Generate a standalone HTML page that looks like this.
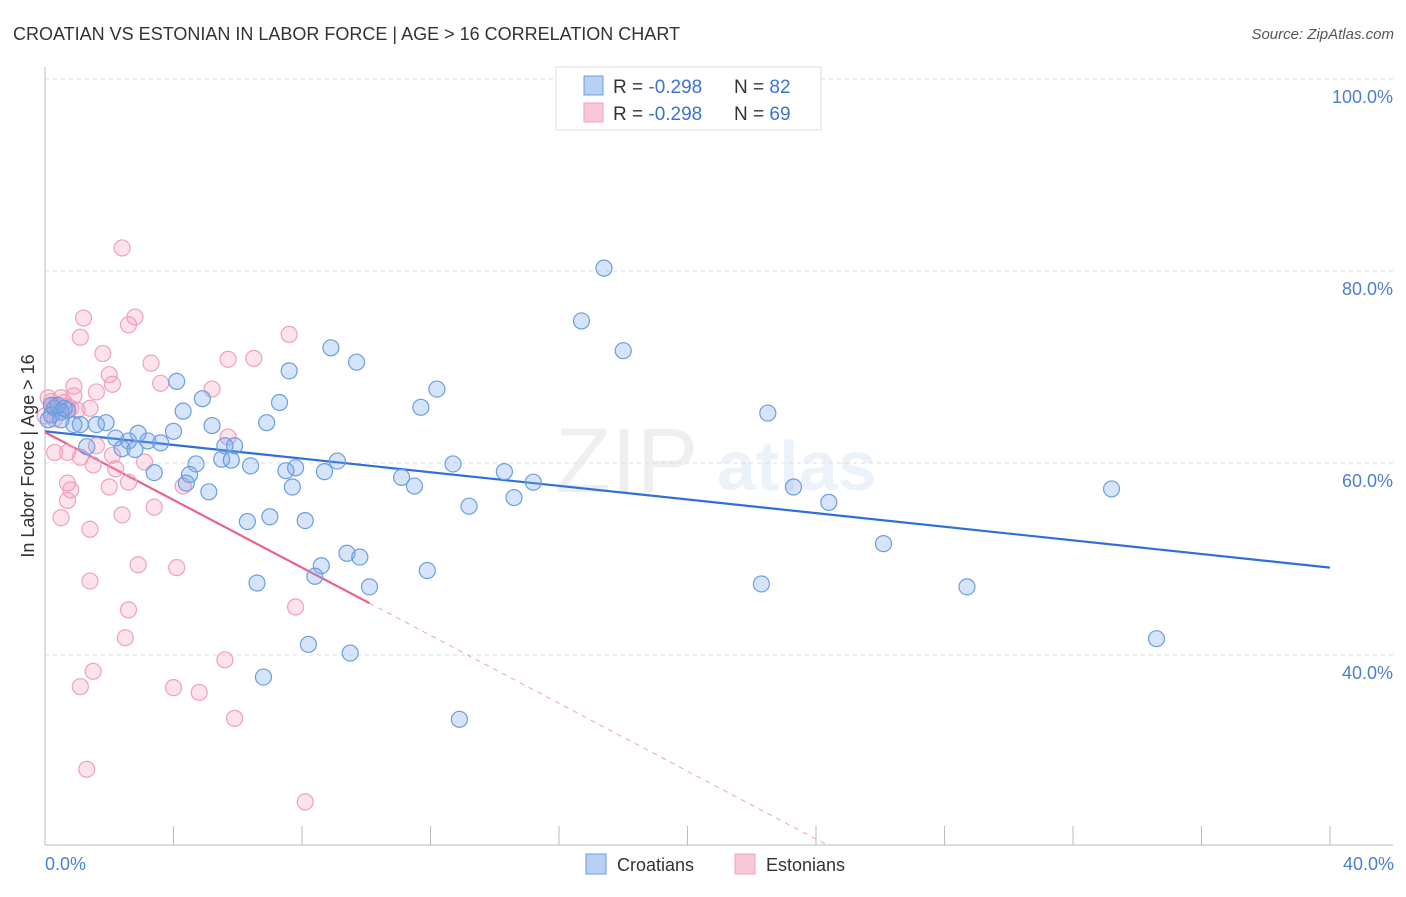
<!DOCTYPE html>
<html><head><meta charset="utf-8">
<style>
body{margin:0;background:#fff;font-family:"Liberation Sans",sans-serif;}
svg text{font-family:"Liberation Sans",sans-serif;}
</style></head>
<body>
<svg id="chart" width="1406" height="892" xmlns="http://www.w3.org/2000/svg">
<text x="13" y="40" font-size="18" fill="#333">CROATIAN VS ESTONIAN IN LABOR FORCE | AGE &gt; 16 CORRELATION CHART</text>
<text x="1394" y="39" font-size="15" fill="#555" font-style="italic" text-anchor="end">Source: ZipAtlas.com</text>
<g opacity="0.13">
<text x="555" y="492" font-size="92" font-family="Liberation Serif" fill="#888">ZIP</text>
<text x="717" y="490" font-size="70" fill="#6a9ee0" font-weight="bold">atlas</text>
</g>
<g id="grid"></g>
<g id="axes"></g>
<g id="trends"></g>
<g id="points"></g>
<text transform="translate(34,456) rotate(-90)" font-size="18" fill="#333" text-anchor="middle">In Labor Force | Age &gt; 16</text>
<text x="45" y="870" font-size="18" fill="#4a7fd4">0.0%</text>
<text x="1394" y="870" font-size="18" fill="#4a7fd4" text-anchor="end">40.0%</text>
<g>
<rect x="556" y="67" width="265" height="63" fill="#fff" stroke="#ddd"/>
<rect x="584" y="76" width="19" height="19" fill="#b7d0f3" stroke="#6a9ee0"/>
<text x="613" y="93" font-size="19" fill="#333">R = <tspan fill="#3b73d4">-0.298</tspan></text>
<text x="734" y="93" font-size="19" fill="#333">N = <tspan fill="#3b73d4">82</tspan></text>
<rect x="584" y="103" width="19" height="19" fill="#f9c6d6" stroke="#f0a0bc"/>
<text x="613" y="120" font-size="19" fill="#333">R = <tspan fill="#3b73d4">-0.298</tspan></text>
<text x="734" y="120" font-size="19" fill="#333">N = <tspan fill="#3b73d4">69</tspan></text>
</g>
<g>
<rect x="586" y="854" width="20" height="20" fill="#b7d0f3" stroke="#6a9ee0"/>
<text x="617" y="871" font-size="18" fill="#333">Croatians</text>
</g>
<g>
<rect x="735" y="854" width="20" height="20" fill="#f9c6d6" stroke="#f0a0bc"/>
<text x="766" y="871" font-size="18" fill="#333">Estonians</text>
</g>
</svg>
<script>
const yTicks=[100,80,60,40];
const yTickLabels=["100.0%","80.0%","60.0%","40.0%"];
const xTicks=[0,4,8,12,16,20,24,28,32,36,40];
const croX=[17.4,16.7,18.0,8.9,9.7,7.6,4.1,12.2,4.9,7.3,11.7,4.3,22.5,6.9,5.2,4.0,1.9,1.6,1.1,2.9,2.2,3.2,3.6,2.6,5.9,5.6,1.3,2.4,2.8,5.5,5.8,4.7,6.4,7.8,9.1,12.7,7.5,14.3,8.7,3.4,11.1,4.5,4.4,11.5,7.7,15.2,5.1,14.6,33.2,23.3,24.4,13.2,6.3,7.0,8.1,26.1,9.4,9.8,8.6,8.4,11.9,6.6,22.3,10.1,28.7,8.2,9.5,34.6,6.8,12.9,0.2,0.3,0.5,0.7,0.2,0.5,0.9,0.1,0.4,0.6];
const croY=[80.3,74.8,71.7,72.0,70.5,69.6,68.5,67.7,66.7,66.3,65.8,65.4,65.2,64.2,63.9,63.3,64.2,64.0,64.0,63.1,62.6,62.3,62.1,62.3,61.8,61.8,61.7,61.5,61.4,60.4,60.3,59.9,59.7,59.5,60.2,59.9,59.2,59.1,59.1,59.0,58.5,58.8,57.9,57.6,57.5,58.0,57.0,56.4,57.3,57.5,55.9,55.5,53.9,54.4,54.0,51.6,50.6,50.2,49.3,48.2,48.8,47.5,47.4,47.1,47.1,41.1,40.2,41.7,37.7,33.3,66.0,65.7,65.3,65.5,65.0,64.5,64.0,64.5,66.0,65.7];
const estX=[2.4,1.2,2.8,2.6,1.1,7.6,1.8,3.3,5.7,6.5,2.0,2.1,3.6,5.2,0.9,1.6,0.9,1.4,0.7,1.0,5.7,1.6,0.7,0.3,1.1,2.1,3.1,1.5,2.2,4.3,2.6,2.0,0.7,0.8,0.7,3.4,2.4,0.5,1.4,2.9,4.1,1.4,2.6,7.8,2.5,5.6,1.5,1.1,4.0,4.8,5.9,1.3,8.1,0.1,0.2,0.3,0.5,0.6,0.8,0.0,0.3,0.5];
const estY=[82.4,75.1,75.2,74.4,73.1,73.4,71.4,70.4,70.8,70.9,69.2,68.2,68.3,67.7,68.0,67.4,67.0,65.7,65.9,65.5,62.7,61.8,61.1,61.1,60.6,60.8,60.1,59.8,59.4,57.6,58.0,57.5,57.9,57.2,56.1,55.4,54.6,54.3,53.1,49.4,49.1,47.7,44.7,45.0,41.8,39.5,38.3,36.7,36.6,36.1,33.4,28.1,24.7,66.8,66.4,66.0,65.5,66.3,65.7,64.9,64.6,66.8];
const croTrendX=[0,40];
const croTrendY=[63.3,49.1];
const estTrendX=[0,10.1,24.3];
const estTrendY=[63.2,45.4,20.3];

const NS="http://www.w3.org/2000/svg";
const X0=45,X1=1330,YTOP=79,PXPER=9.6,YBOT=845;
function sx(v){return X0+v*(X1-X0)/40;}
function sy(v){return YTOP+(100-v)*PXPER;}
function mk(tag,attrs,parent){const e=document.createElementNS(NS,tag);for(const k in attrs)e.setAttribute(k,attrs[k]);parent.appendChild(e);return e;}
const grid=document.getElementById('grid'),axes=document.getElementById('axes'),tr=document.getElementById('trends'),pts=document.getElementById('points');
yTicks.forEach((t,i)=>{
  const l=mk('line',{x1:45,x2:1393,y1:sy(t),y2:sy(t),stroke:'#ddd','stroke-dasharray':'4,4'},grid);
  
  
  const tx=mk('text',{x:1393,y:sy(t)+24,'font-size':18,fill:'#4a7fd4','text-anchor':'end'},grid);
  tx.textContent=yTickLabels[i];
  
  
});
const ya=mk('line',{x1:45,x2:45,y1:67,y2:YBOT,stroke:'#bbb'},axes);


const xa=mk('line',{x1:45,x2:1393,y1:YBOT,y2:YBOT,stroke:'#bbb'},axes);


xTicks.forEach(t=>{
  const l=mk('line',{x1:sx(t),x2:sx(t),y1:826,y2:YBOT,stroke:'#bbb'},axes);
  
  
});
const ct=mk('line',{x1:sx(croTrendX[0]),y1:sy(croTrendY[0]),x2:sx(croTrendX[1]),y2:sy(croTrendY[1]),stroke:'#2f6fd8','stroke-width':2.2},tr);


const et=mk('line',{x1:sx(estTrendX[0]),y1:sy(estTrendY[0]),x2:sx(estTrendX[1]),y2:sy(estTrendY[1]),stroke:'#e8648f','stroke-width':2.2},tr);


const ed=mk('line',{x1:sx(estTrendX[1]),y1:sy(estTrendY[1]),x2:sx(estTrendX[2]),y2:sy(estTrendY[2]),stroke:'#f0a0bc','stroke-width':1,'stroke-dasharray':'5,5'},tr);


estX.forEach((x,i)=>{
  const c=mk('circle',{cx:sx(x),cy:sy(estY[i]),r:8,fill:'rgba(244,160,190,0.3)',stroke:'#f0a0bc','stroke-width':1.2},pts);
  
  
});
croX.forEach((x,i)=>{
  const c=mk('circle',{cx:sx(x),cy:sy(croY[i]),r:8,fill:'rgba(120,165,235,0.3)',stroke:'#6a9ee0','stroke-width':1.2},pts);
  
  
});
</script>
</body></html>
